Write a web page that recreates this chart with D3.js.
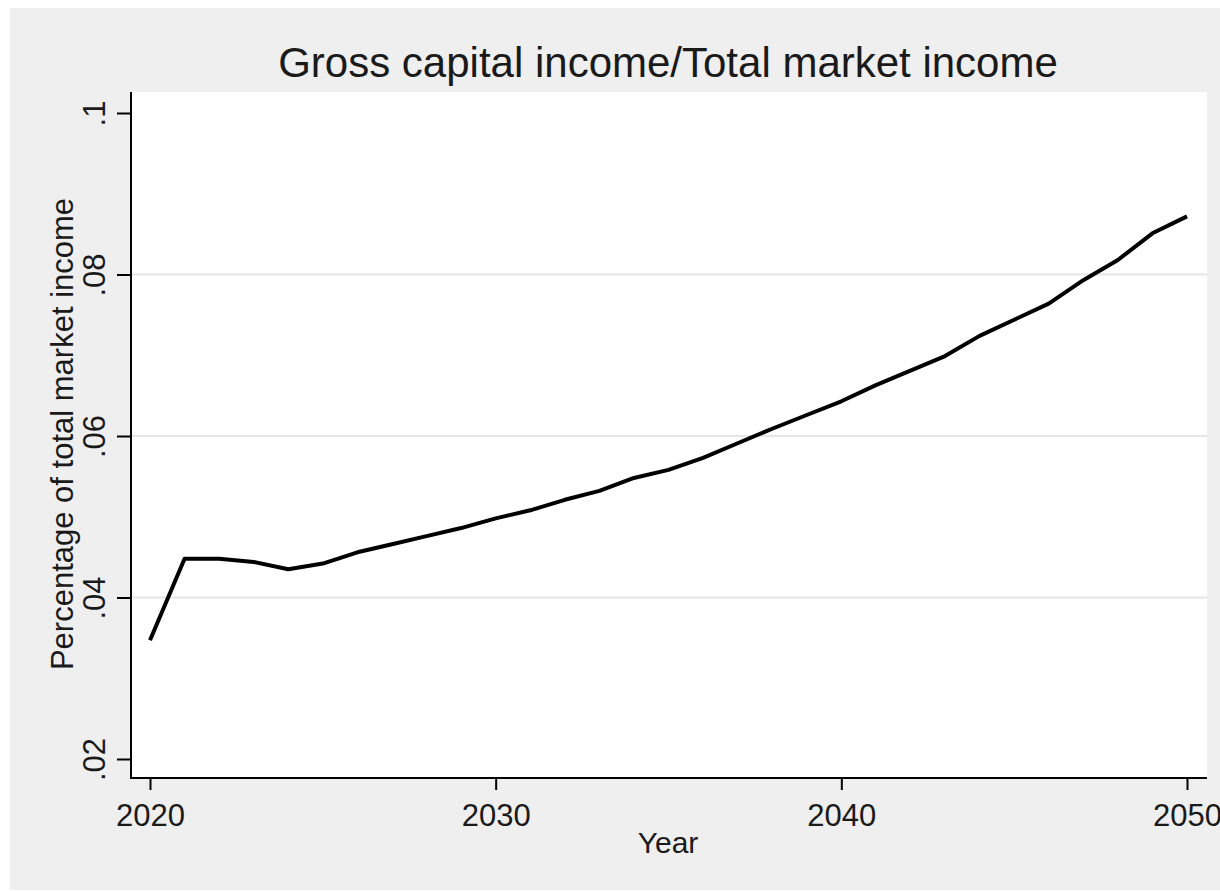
<!DOCTYPE html>
<html>
<head>
<meta charset="utf-8">
<script src="https://cdn.jsdelivr.net/npm/d3@7"></script>
<style>
  html, body { margin: 0; padding: 0; background: #ffffff; }
  svg { display: block; }
  text { font-family: "Liberation Sans", Arial, sans-serif; fill: #1a1a1a; }
</style>
</head>
<body>
<svg id="chart" width="1220" height="891"></svg>
<script>
// Gross capital income as a share of total market income, 2020-2050
const years = d3.range(2020, 2051);
const shareValues = [
  0.0347, 0.0448, 0.0448, 0.0444, 0.0435, 0.0442, 0.0456, 0.0466, 0.0476, 0.0486,
  0.0498, 0.0508, 0.0521, 0.0532, 0.0548, 0.0558, 0.0573, 0.0591, 0.0609, 0.0626,
  0.0643, 0.0663, 0.0681, 0.0699, 0.0724, 0.0744, 0.0764, 0.0793, 0.0818, 0.0851,
  0.0872
];
const xTicks = [2020, 2030, 2040, 2050];
const yTicks = [0.02, 0.04, 0.06, 0.08, 0.1];
const yTickLabels = [".02", ".04", ".06", ".08", ".1"];
const gridValues = [0.04, 0.06, 0.08];
const titleText = "Gross capital income/Total market income";
const xTitleText = "Year";
const yTitleText = "Percentage of total market income";

const svg = d3.select("#chart");

// graph region background
svg.append("rect")
  .attr("x", 10).attr("y", 8)
  .attr("width", 1210).attr("height", 882)
  .attr("fill", "#efefef");

// plot region
const plot = { left: 131, right: 1207, top: 92, bottom: 778 };
svg.append("rect")
  .attr("x", plot.left).attr("y", plot.top)
  .attr("width", plot.right - plot.left).attr("height", plot.bottom - plot.top)
  .attr("fill", "#ffffff");

const x = d3.scaleLinear().domain([2020, 2050]).range([150, 1187]);
const y = d3.scaleLinear().domain([0.02, 0.1]).range([759, 113]);

// horizontal grid lines at the interior ticks
svg.append("g")
  .selectAll("line")
  .data(gridValues)
  .join("line")
  .attr("x1", plot.left).attr("x2", plot.right)
  .attr("y1", d => y(d)).attr("y2", d => y(d))
  .attr("stroke", "#e6e6e6")
  .attr("stroke-width", 2);

// data line
const line = d3.line()
  .x((d, i) => x(years[i]))
  .y(d => y(d));

svg.append("path")
  .datum(shareValues)
  .attr("d", line)
  .attr("fill", "none")
  .attr("stroke", "#000000")
  .attr("stroke-width", 4)
  .attr("stroke-linejoin", "round");

// y axis
const yAxis = d3.axisLeft(y)
  .tickValues(yTicks)
  .tickFormat((d, i) => yTickLabels[i])
  .tickSize(14)
  .tickPadding(12);

const gy = svg.append("g")
  .attr("transform", `translate(${plot.left},0)`)
  .call(yAxis);
gy.select(".domain").remove();
gy.append("line")
  .attr("x1", 0).attr("x2", 0)
  .attr("y1", plot.top).attr("y2", plot.bottom + 1)
  .attr("stroke", "#000").attr("stroke-width", 2);
gy.selectAll(".tick line").attr("stroke", "#000").attr("stroke-width", 2);
gy.selectAll(".tick text")
  .attr("x", null).attr("dy", null)
  .attr("transform", "translate(-26,0) rotate(-90)")
  .attr("text-anchor", "middle")
  .attr("font-size", 31)
  .attr("fill", "#1a1a1a")
  .style("font-family", "'Liberation Sans', Arial, sans-serif");

// x axis
const xAxis = d3.axisBottom(x)
  .tickValues(xTicks)
  .tickFormat(d3.format("d"))
  .tickSize(12)
  .tickPadding(6);

const gx = svg.append("g")
  .attr("transform", `translate(0,${plot.bottom})`)
  .call(xAxis);
gx.select(".domain").remove();
gx.append("line")
  .attr("x1", plot.left - 1).attr("x2", plot.right)
  .attr("y1", 0).attr("y2", 0)
  .attr("stroke", "#000").attr("stroke-width", 2);
gx.selectAll(".tick line").attr("stroke", "#000").attr("stroke-width", 2);
gx.selectAll(".tick text")
  .attr("dy", null)
  .attr("y", 48)
  .attr("font-size", 31)
  .attr("fill", "#1a1a1a")
  .style("font-family", "'Liberation Sans', Arial, sans-serif");

// titles
svg.append("text")
  .attr("x", 668).attr("y", 77)
  .attr("text-anchor", "middle")
  .attr("font-size", 42)
  .text(titleText);

svg.append("text")
  .attr("x", 668).attr("y", 853)
  .attr("text-anchor", "middle")
  .attr("font-size", 30)
  .text(xTitleText);

svg.append("text")
  .attr("transform", "translate(73,434) rotate(-90)")
  .attr("text-anchor", "middle")
  .attr("font-size", 31)
  .text(yTitleText);
</script>
</body>
</html>
